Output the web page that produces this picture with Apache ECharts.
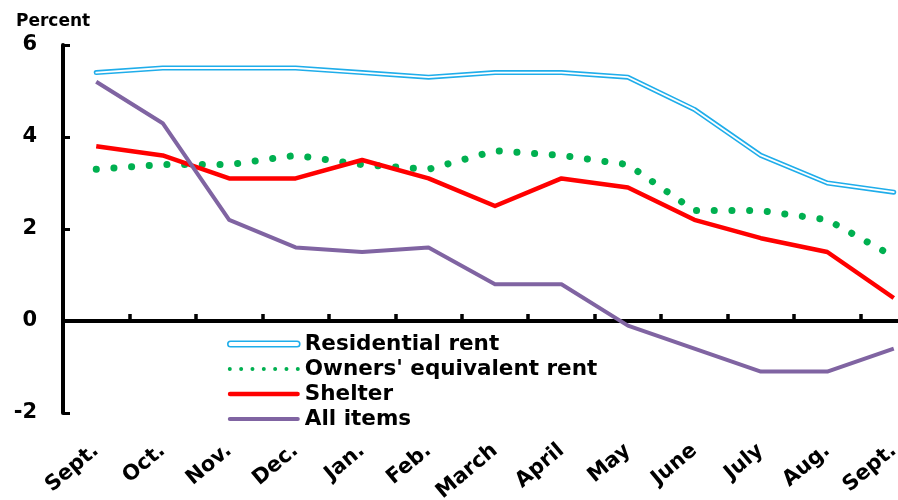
<!DOCTYPE html>
<html>
<head>
<meta charset="utf-8">
<script src="https://cdn.jsdelivr.net/npm/echarts@6/dist/echarts.min.js"></script>
<style>
  html, body { margin: 0; padding: 0; background: #fff; }
  #chart { width: 898px; height: 500px; }
</style>
</head>
<body>
<div id="chart"></div>
<script>
// Twelve-month percent changes, Sept. through Sept.
const months = ['Sept.', 'Oct.', 'Nov.', 'Dec.', 'Jan.', 'Feb.', 'March', 'April', 'May', 'June', 'July', 'Aug.', 'Sept.'];
const residentialRent = [5.4, 5.5, 5.5, 5.5, 5.4, 5.3, 5.4, 5.4, 5.3, 4.6, 3.6, 3.0, 2.8];
const ownersEquivalentRent = [3.3, 3.4, 3.4, 3.6, 3.4, 3.3, 3.7, 3.6, 3.4, 2.4, 2.4, 2.2, 1.4];
const shelter = [3.8, 3.6, 3.1, 3.1, 3.5, 3.1, 2.5, 3.1, 2.9, 2.2, 1.8, 1.5, 0.5];
const allItems = [5.2, 4.3, 2.2, 1.6, 1.5, 1.6, 0.8, 0.8, -0.1, -0.6, -1.1, -1.1, -0.6];

const yMin = -2, yMax = 6, yStep = 2;

const FONT = 'DejaVu Sans';
const BLUE = '#1fadea';
const GREEN = '#00b050';
const RED = '#ff0000';
const PURPLE = '#8064a2';

// Legend swatches: rounded bars and a row of dots
function barIcon(w, h) {
  const r = h / 2;
  return 'path://M' + r + ',0H' + (w - r) + 'A' + r + ',' + r + ',0,0,1,' + (w - r) + ',' + h +
         'H' + r + 'A' + r + ',' + r + ',0,0,1,' + r + ',0Z';
}
function dotsIcon(w, count, r) {
  const step = (w - 2 * r) / (count - 1);
  let p = 'path://';
  for (let i = 0; i < count; i++) {
    const cx = r + i * step;
    p += 'M' + (cx - r) + ',' + r + 'A' + r + ',' + r + ',0,1,0,' + (cx + r) + ',' + r +
         'A' + r + ',' + r + ',0,1,0,' + (cx - r) + ',' + r + 'Z';
  }
  return p;
}

const chart = echarts.init(document.getElementById('chart'), null, { renderer: 'canvas' });

chart.setOption({
  animation: false,
  backgroundColor: '#fff',
  // the plot runs past the right edge of the canvas, so the last band is cut off
  grid: { left: 63, top: 45, right: -29, height: 368, containLabel: false, outerBoundsMode: 'none' },
  graphic: [{
    type: 'text', left: 16, top: 13,
    style: { text: 'Percent', font: 'bold 17px "DejaVu Sans"', fill: '#000' }
  }],
  legend: {
    orient: 'vertical',
    left: 222,
    top: 328,
    itemWidth: 72,
    itemHeight: 14,
    itemGap: 3,
    selectedMode: false,
    symbolKeepAspect: true,
    textStyle: { fontFamily: FONT, fontWeight: 'bold', fontSize: 21.5, lineHeight: 22, color: '#000' },
    data: [
      { name: 'Residential rent', icon: barIcon(72, 5.5),
        itemStyle: { color: '#fff', borderColor: BLUE, borderWidth: 1.6 } },
      { name: "Owners' equivalent rent", icon: dotsIcon(72, 7, 2),
        itemStyle: { color: GREEN, borderWidth: 0 } },
      { name: 'Shelter', icon: barIcon(72, 4.5),
        itemStyle: { color: RED, borderWidth: 0 } },
      { name: 'All items', icon: barIcon(72, 4),
        itemStyle: { color: PURPLE, borderWidth: 0 } }
    ]
  },
  xAxis: [
    {
      // month labels along the bottom of the plot
      type: 'category',
      data: months,
      boundaryGap: true,
      position: 'bottom',
      axisLine: { show: false, onZero: false },
      axisTick: { show: false },
      axisLabel: {
        interval: 0, rotate: 40, margin: 35,
        fontFamily: FONT, fontWeight: 'bold', fontSize: 21, color: '#000'
      },
      splitLine: { show: false }
    },
    {
      // zero line with month ticks
      type: 'category',
      data: months,
      boundaryGap: true,
      position: 'bottom',
      axisLine: { show: true, onZero: true, lineStyle: { color: '#000', width: 4 } },
      axisTick: { show: true, inside: true, length: 7, lineStyle: { color: '#000', width: 3.5 } },
      axisLabel: { show: false },
      splitLine: { show: false }
    }
  ],
  yAxis: {
    type: 'value',
    min: yMin, max: yMax, interval: yStep,
    axisLine: { show: true, lineStyle: { color: '#000', width: 4 } },
    axisTick: { show: true, inside: true, length: 7, lineStyle: { color: '#000', width: 3 } },
    axisLabel: { margin: 26, fontFamily: FONT, fontWeight: 'bold', fontSize: 21, color: '#000' },
    splitLine: { show: false }
  },
  series: [
    {
      name: 'Residential rent', type: 'line', data: residentialRent,
      symbol: 'none', silent: true,
      lineStyle: { color: BLUE, width: 5, join: 'round', cap: 'round' },
      itemStyle: { color: BLUE }
    },
    {
      name: 'Residential rent center', type: 'line', data: residentialRent,
      symbol: 'none', silent: true,
      lineStyle: { color: '#fff', width: 1.8, join: 'round', cap: 'round' },
      itemStyle: { color: '#fff' }
    },
    {
      name: "Owners' equivalent rent", type: 'line', data: ownersEquivalentRent,
      symbol: 'none', silent: true,
      lineStyle: { color: GREEN, width: 7, type: [0.1, 17.6], cap: 'round', join: 'round' },
      itemStyle: { color: GREEN }
    },
    {
      name: 'Shelter', type: 'line', data: shelter,
      symbol: 'none', silent: true,
      lineStyle: { color: RED, width: 4.5, join: 'round' },
      itemStyle: { color: RED }
    },
    {
      name: 'All items', type: 'line', data: allItems,
      symbol: 'none', silent: true,
      lineStyle: { color: PURPLE, width: 4, join: 'round' },
      itemStyle: { color: PURPLE }
    }
  ]
});
</script>
</body>
</html>
